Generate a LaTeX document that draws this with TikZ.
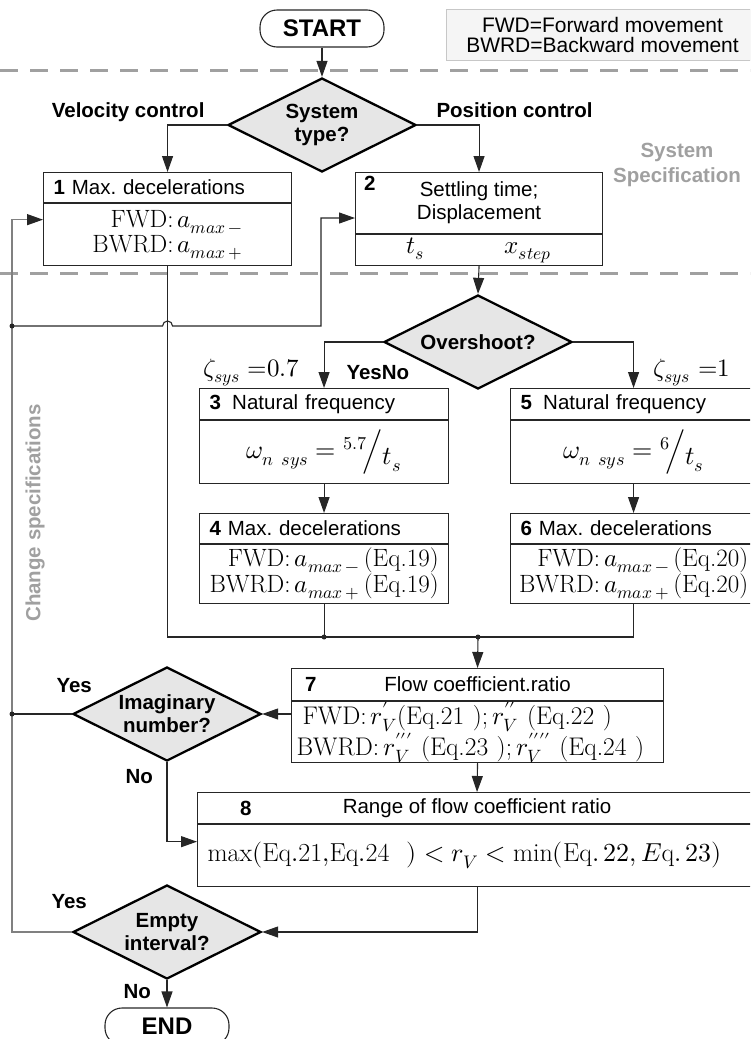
\documentclass[tikz,border=0pt]{standalone}
\usepackage{fontspec}
\usepackage{unicode-math}
\setsansfont{Liberation Sans}
\setmathfont{Latin Modern Math}
\usetikzlibrary{shapes.geometric,arrows.meta,positioning}
\frenchspacing

\definecolor{specgray}{HTML}{A0A0A0}
\definecolor{diafill}{HTML}{E6E6E6}

\newcommand{\lblfont}{\sffamily\fontsize{20.5}{23}\selectfont}
\newcommand{\eqfont}{\rmfamily\fontsize{25}{25}\selectfont}
\newcommand{\skewfrac}[2]{{}^{#1}\!\Big/\raisebox{-6pt}{$#2$}}

\tikzset{
  every node/.style={font=\lblfont},
  terminal/.style={draw=black!85, line width=1.1pt, rounded corners=17pt, minimum width=124, minimum height=37, font=\sffamily\bfseries\fontsize{24}{26}\selectfont},
  decision/.style={diamond, draw=black, line width=2.3pt, fill=diafill, aspect=2, minimum width=188, minimum height=94, inner sep=0pt, align=center, font=\lblfont\bfseries},
  part/.style={draw=black!85, line width=1.1pt, inner xsep=10pt, inner ysep=0pt},
  conn/.style={draw=black!85, line width=1.1pt},
  arr/.style={conn, -{Triangle[length=16pt,width=11pt,color=black!85]}},
  loopline/.style={draw=black!50, line width=1.3pt},
  sepline/.style={draw=specgray, line width=3pt, dash pattern=on 18pt off 12pt},
  spec/.style={text=specgray, font=\lblfont\bfseries},
  branch/.style={font=\lblfont\bfseries},
}

\begin{document}
\begin{tikzpicture}[x=1pt,y=-1pt]
\useasboundingbox (0,0) rectangle (750,1039);
\clip (0,0) rectangle (750,1039);

% section borders
\draw[sepline] (0,70) -- (750,70);
\draw[sepline] (0,273) -- (750,273);

% start + legend
\node[terminal] (start) at (322,28.5) {START};
\node[draw=black!22, fill=black!4, line width=1pt, anchor=north west, minimum width=304, minimum height=51, align=center, font=\sffamily\fontsize{21}{20}\selectfont] (legend) at (446,9) {\hspace*{8pt}FWD=Forward movement\\\hspace*{8pt}BWRD=Backward movement};

% system type
\node[decision] (systype) at (322,125) {System\\type?};
\node[branch, anchor=base east] (velo) at (208,117) {Velocity control};
\node[branch, anchor=base west] (posi) at (433,117) {Position control};
\node[spec, align=center, font=\lblfont\bfseries\fontsize{20.5}{25}\selectfont] (sysspec) at (677,165) {System\\Specification};
\node[spec, rotate=90] (chg) at (35,513) {Change specifications};

% box 1
\node[part, anchor=north west, text width=228, minimum height=30, align=left] (b1h) at (43,172) {\textbf{1} Max. decelerations};
\node[part, anchor=north, minimum width=248, minimum height=62, font=\eqfont] (b1b) at (b1h.south) {\begin{tabular}{@{}r@{}l@{}}FWD:\,&$a_{max\,-}$\\BWRD:\,&$a_{max\,+}$\end{tabular}};

% box 2
\node[part, anchor=north west, minimum width=247, minimum height=61, align=center] (b2h) at (355,172) {Settling time;\\Displacement};
\node[branch, anchor=north west, inner sep=0pt] (n2) at ([xshift=9pt,yshift=-4pt]b2h.north west) {2};
\node[part, anchor=north, minimum width=247, minimum height=31, font=\eqfont] (b2b) at (b2h.south) {$t_s$\hspace{80pt}$x_{step}$\hspace{14pt}};

% overshoot
\node[decision] (over) at (478,342) {Overshoot?};
\node[anchor=base east, font=\eqfont] (zeta1) at (303,376) {$\zeta_{sys}\ {=}0.7$};
\node[branch, anchor=base west] (yesno) at (343,379) {YesNo};
\node[anchor=base west, font=\eqfont] (zeta2) at (650,376) {$\zeta_{sys}\ {=}1$};

% box 3 and 5
\node[part, anchor=north west, text width=229, minimum height=31, align=left] (b3h) at (199,388) {\textbf{3}\hspace{0.55em}Natural frequency};
\node[part, anchor=north, minimum width=249, minimum height=63, font=\rmfamily\fontsize{26}{26}\selectfont] (b3b) at (b3h.south) {$\omega_{n\ sys}=\skewfrac{5.7}{t_s}$};
\node[part, anchor=north west, text width=226, minimum height=31, align=left] (b5h) at (510,388) {\textbf{5}\hspace{0.55em}Natural frequency};
\node[part, anchor=north, minimum width=246, minimum height=63, font=\rmfamily\fontsize{26}{26}\selectfont] (b5b) at (b5h.south) {$\omega_{n\ sys}=\skewfrac{6}{t_s}$};

% box 4 and 6
\node[part, anchor=north west, text width=229, minimum height=30, align=left] (b4h) at (199,513) {\textbf{4} Max. decelerations};
\node[part, anchor=north, inner xsep=1pt, minimum width=249, minimum height=59, font=\eqfont] (b4b) at (b4h.south) {\begin{tabular}{@{}r@{}l@{}}FWD:\,&$a_{max\,-}$\,(Eq.19)\\BWRD:\,&$a_{max\,+}$\,(Eq.19)\end{tabular}};
\node[part, anchor=north west, text width=226, minimum height=30, align=left] (b6h) at (510,513) {\textbf{6} Max. decelerations};
\node[part, anchor=north, inner xsep=1pt, minimum width=246, minimum height=59, font=\eqfont] (b6b) at (b6h.south) {\begin{tabular}{@{}r@{}l@{}}FWD:\,&$a_{max\,-}$\,(Eq.20)\\BWRD:\,&$a_{max\,+}$\,(Eq.20)\end{tabular}};

% box 7
\node[part, anchor=north west, minimum width=372, minimum height=32] (b7h) at (291,668) {Flow coefficient.ratio};
\node[branch, anchor=west, inner sep=0pt] (n7) at ([xshift=14pt]b7h.west) {7};
\node[part, anchor=north, text width=362, inner xsep=5pt, minimum height=61, align=left, font=\rmfamily\fontsize{25.5}{25}\selectfont] (b7b) at (b7h.south) {\hspace*{6pt}FWD:\,$r_V^{\prime}$(Eq.21\ );\,$r_V^{\prime\prime}$\ (Eq.22\ )\\BWRD:\,$r_V^{\prime\prime\prime}$\ (Eq.23\ );\,$r_V^{\prime\prime\prime\prime}$\ (Eq.24\ )};
\node[decision] (imag) at (167,714) {Imaginary\\number?};
\node[branch, anchor=base west] (yes1) at (53,692) {Yes};
\node[branch, anchor=base west] (no1) at (122,783) {No};

% box 8
\node[part, anchor=north west, minimum width=559, minimum height=31] (b8h) at (197,792) {Range of flow coefficient ratio};
\node[branch, anchor=west, inner sep=0pt] (n8) at ([xshift=43pt]b8h.west) {8};
\node[part, anchor=north, text width=539, minimum height=62, align=left, font=\rmfamily\fontsize{26}{26}\selectfont] (b8b) at (b8h.south) {$\max(\mathrm{Eq.21{,}Eq.24}\ \ )<r_V<\min(\mathrm{Eq}.\,22,E\mathrm{q}.\,23)$};

% end
\node[decision] (empty) at (167,932) {Empty\\interval?};
\node[branch, anchor=base west] (yes2) at (48,908) {Yes};
\node[branch, anchor=base west] (no2) at (120,998) {No};
\node[terminal] (finish) at (167,1026.5) {END};

% helper points
\coordinate (lx) at (12,0);
\coordinate (in1) at ([yshift=15pt]b1b.west);
\coordinate (j2) at (12,326);
\coordinate (k2) at (321,218);
\coordinate (h1) at (j2 -| b1b.south);
\coordinate (m) at (478,637);
\coordinate (in8) at ([yshift=14pt]b8b.west);

% main flow
\draw[arr] (start.south) -- (systype.north);
\draw[arr] (systype.west) -| (b1h.north);
\draw[arr] (systype.east) -| (b2h.north);
\draw[arr] (b2b.south) -- (over.north);
\draw[arr] (over.west) -| (b3h.north);
\draw[arr] (over.east) -| (b5h.north);
\draw[arr] (b3b.south) -- (b4h.north);
\draw[arr] (b5b.south) -- (b6h.north);

% merge into box 7
\draw[conn] (b1b.south) -- (b1b.south |- m) -- (b6b.south |- m) -- (b6b.south);
\draw[conn] (b4b.south) -- (b4b.south |- m);
\fill[black!85] (b4b.south |- m) circle (2.5);
\fill[black!85] (m) circle (2.5);
\draw[arr] (m) -- (b7h.north);

\draw[arr] (b7h.west |- imag.east) -- (imag.east);
\draw[arr] (imag.south) |- (in8);
\draw[arr] (b7b.south) -- (b8h.north);
\draw[arr] (b8b.south) |- (empty.east);
\draw[arr] (empty.south) -- (finish.north);

% change specifications loop
\draw[arr, loopline] (empty.west) -- (lx |- empty.west) -- (lx |- in1) -- (in1);
\draw[conn] (imag.west) -- (lx |- imag.west);
\fill[black!85] (lx |- imag.west) circle (2.5);
\draw[arr] (j2) -- ([xshift=-5pt]h1) arc[start angle=180, end angle=360, radius=5] -- (j2 -| k2) -- (k2) -- (k2 -| b2h.west);
\fill[black!85] (j2) circle (2.5);

\end{tikzpicture}
\end{document}
